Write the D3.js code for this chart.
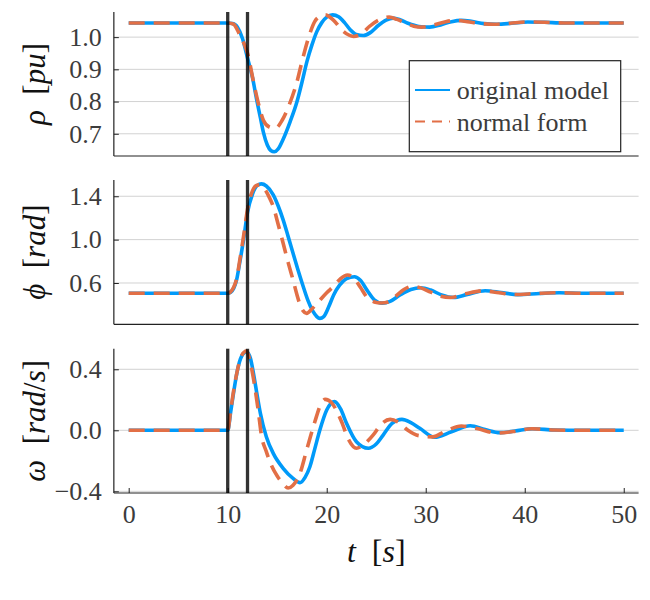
<!DOCTYPE html>
<html><head><meta charset="utf-8">
<script src="https://cdn.jsdelivr.net/npm/d3@7"></script>
<style>
body{margin:0;background:#fff}svg{display:block}
svg text{font-family:"Liberation Serif","DejaVu Serif","Times New Roman",Times,serif !important;}
</style>
</head><body>
<svg id="c" width="650" height="600"></svg>
<script>
// ---- data ----
const seriesNames = ["original model", "normal form"];
const eventTimes = [10, 12];
const xTicks = [0, 10, 20, 30, 40, 50];
const rhoTicks = [0.7, 0.8, 0.9, 1.0];
const phiTicks = [0.6, 1.0, 1.4];
const omegaTicks = [-0.4, 0.0, 0.4];

const rhoOriginal = [[0,1.044],[9.8,1.044],[10.5,1.042],[11.0,1.03],[11.5,0.995],[12.0,0.935],[12.5,0.875],[12.9,0.81],[13.3,0.75],[13.6,0.705],[14.0,0.665],[14.35,0.648],[14.7,0.644],[15.1,0.653],[15.6,0.683],[16.3,0.737],[17.0,0.80],[17.5,0.86],[18.0,0.924],[18.5,0.975],[19.0,1.017],[19.5,1.045],[20.0,1.062],[20.6,1.069],[21.2,1.063],[21.8,1.045],[22.4,1.022],[23.0,1.008],[23.7,1.005],[24.4,1.014],[25.2,1.036],[26.0,1.053],[26.7,1.059],[27.4,1.054],[28.2,1.043],[29.3,1.033],[30.4,1.031],[31.5,1.038],[32.6,1.048],[33.6,1.052],[34.6,1.049],[35.9,1.042],[37.2,1.040],[38.7,1.043],[40.3,1.047],[42,1.046],[44,1.044],[47,1.044],[50,1.044]];
const rhoNormal = [[0,1.044],[10.0,1.044],[10.6,1.04],[11.2,1.008],[11.7,0.976],[12.0,0.95],[12.6,0.862],[13.1,0.794],[13.6,0.742],[14.2,0.721],[14.8,0.717],[15.5,0.742],[16.2,0.789],[17.0,0.862],[17.5,0.924],[18.15,0.997],[18.8,1.049],[19.3,1.064],[19.85,1.069],[20.7,1.052],[21.7,1.017],[22.7,1.002],[23.6,1.012],[24.3,1.033],[25.3,1.054],[26.3,1.062],[27.1,1.055],[28.0,1.043],[28.8,1.034],[29.6,1.031],[30.8,1.038],[32.0,1.048],[33.0,1.052],[34.2,1.048],[35.5,1.042],[36.9,1.040],[38.5,1.043],[40.0,1.047],[42,1.046],[44,1.044],[47,1.044],[50,1.044]];

const phiOriginal = [[0,0.505],[10.0,0.505],[10.3,0.515],[10.6,0.55],[10.9,0.63],[11.2,0.78],[11.6,1.0],[12.0,1.25],[12.5,1.42],[13.0,1.50],[13.4,1.514],[13.9,1.495],[14.6,1.413],[15.1,1.31],[15.6,1.182],[16.1,1.03],[16.6,0.874],[17.1,0.72],[17.6,0.575],[18.1,0.44],[18.6,0.34],[19.0,0.29],[19.3,0.274],[19.7,0.29],[20.2,0.38],[20.7,0.49],[21.3,0.58],[22.0,0.64],[22.8,0.658],[23.4,0.625],[24.1,0.53],[24.8,0.445],[25.6,0.414],[26.4,0.43],[27.4,0.489],[28.5,0.54],[29.5,0.556],[30.5,0.535],[31.6,0.49],[32.8,0.466],[34.2,0.495],[36.0,0.529],[37.6,0.512],[39.3,0.493],[41.5,0.503],[43.5,0.51],[46,0.505],[50,0.505]];
const phiNormal = [[0,0.505],[10.0,0.505],[10.3,0.52],[10.6,0.56],[10.9,0.64],[11.2,0.80],[11.6,1.03],[12.0,1.28],[12.5,1.45],[12.9,1.50],[13.25,1.505],[13.7,1.47],[14.2,1.39],[14.6,1.305],[15.1,1.14],[15.6,0.966],[16.1,0.79],[16.6,0.628],[17.0,0.49],[17.3,0.40],[17.6,0.345],[17.97,0.32],[18.5,0.36],[19.2,0.43],[20.0,0.51],[20.7,0.57],[21.4,0.64],[22.1,0.674],[22.7,0.65],[23.4,0.56],[24.1,0.465],[24.8,0.425],[25.5,0.415],[26.2,0.425],[27.0,0.48],[27.8,0.54],[28.6,0.568],[29.5,0.555],[30.5,0.515],[31.5,0.477],[32.5,0.466],[34.0,0.5],[35.8,0.528],[37.4,0.51],[39.0,0.494],[41.0,0.502],[43.0,0.51],[46,0.505],[50,0.505]];

const omegaOriginal = [[0,0],[10.0,0],[10.3,0.12],[10.6,0.25],[11.0,0.40],[11.4,0.485],[11.9,0.515],[12.3,0.47],[12.6,0.374],[13.0,0.22],[13.3,0.111],[13.9,-0.042],[14.6,-0.151],[15.6,-0.249],[16.6,-0.315],[17.3,-0.343],[17.8,-0.31],[18.3,-0.239],[18.8,-0.12],[19.3,0.0],[20.0,0.133],[20.8,0.188],[21.4,0.14],[22.0,0.046],[23.0,-0.075],[24.2,-0.118],[25.0,-0.09],[25.7,-0.031],[26.6,0.045],[27.6,0.072],[28.5,0.05],[29.4,0.013],[30.9,-0.046],[32.6,-0.01],[34.5,0.03],[36.0,0.005],[37.5,-0.015],[39.0,-0.005],[40.8,0.01],[43,0.002],[46,0],[50,0]];
const omegaNormal = [[0,0],[10.0,0],[10.3,0.13],[10.6,0.26],[11.0,0.40],[11.4,0.49],[11.9,0.52],[12.3,0.44],[12.7,0.30],[13.1,0.12],[13.4,-0.03],[13.9,-0.14],[14.4,-0.228],[15.0,-0.30],[15.6,-0.35],[16.1,-0.378],[16.6,-0.36],[17.3,-0.282],[17.97,-0.13],[18.8,0.056],[19.4,0.17],[19.85,0.203],[20.5,0.18],[21.5,0.056],[22.2,-0.06],[23.0,-0.118],[23.8,-0.09],[24.7,-0.03],[25.5,0.04],[26.4,0.072],[27.3,0.05],[28.2,0.0],[29.3,-0.035],[30.7,-0.043],[32.0,-0.005],[33.6,0.028],[35.3,0.01],[37.1,-0.018],[38.8,-0.008],[40.7,0.01],[43,0.002],[46,0],[50,0]];

// ---- drawing ----
const svg = d3.select("#c");
const left = 113.85, right = 638.6;
const x = d3.scaleLinear().domain([-1.5, 51.5]).range([left, right]);
const blue = "#009af9", red = "#e26f46";
const tickColor = "#3c3c3c";

const panels = [
  {orig: rhoOriginal, norm: rhoNormal, dom: [0.631, 1.078], rng: [156, 12], ticks: rhoTicks, sym: "ρ", unit: "pu"},
  {orig: phiOriginal, norm: phiNormal, dom: [0.219, 1.55], rng: [324.3, 180], ticks: phiTicks, sym: "ϕ", unit: "rad"},
  {orig: omegaOriginal, norm: omegaNormal, dom: [-0.411, 0.535], rng: [493, 348.7], ticks: omegaTicks, sym: "ω", unit: "rad/s"}
];
const fmt = d3.format(".1f");

panels.forEach((p, i) => {
  const y = d3.scaleLinear().domain(p.dom).range(p.rng);
  const g = svg.append("g");
  const yb = p.rng[0], yt = p.rng[1];
  // grid
  g.selectAll(".grid").data(p.ticks).join("line")
    .attr("x1", left).attr("x2", right)
    .attr("y1", d => y(d)).attr("y2", d => y(d))
    .attr("stroke", "#000").attr("stroke-opacity", 0.18).attr("stroke-width", 1);
  // y axis
  const ya = d3.axisLeft(y).tickValues(p.ticks).tickSize(-5).tickPadding(12)
    .tickFormat(d => fmt(d).replace("-", "−"));
  const yg = g.append("g").attr("transform", `translate(${left},0)`).call(ya);
  yg.attr("font-family", null);
  yg.select(".domain").remove();
  yg.selectAll(".tick line").attr("stroke", "#222");
  yg.selectAll(".tick text").attr("font-size", 26).attr("fill", tickColor);
  // axis lines
  g.append("line").attr("x1", left).attr("x2", left).attr("y1", yt).attr("y2", yb).attr("stroke", "#222").attr("stroke-width", 1.2);
  g.append("line").attr("x1", left).attr("x2", right).attr("y1", yb).attr("y2", yb).attr("stroke", "#222").attr("stroke-width", 1.2);
  if (i === 2) {
    const xa = d3.axisBottom(x).tickValues(xTicks).tickSize(-5).tickPadding(12).tickFormat(d3.format("d"));
    const xg = g.append("g").attr("transform", `translate(0,${yb})`).call(xa);
    xg.attr("font-family", null);
    xg.select(".domain").remove();
    xg.selectAll(".tick line").attr("stroke", "#222");
    xg.selectAll(".tick text").attr("font-size", 26).attr("fill", tickColor);
  }
  // series
  const line = d3.line().x(d => x(d[0])).y(d => y(d[1])).curve(d3.curveMonotoneX);
  g.append("path").attr("d", line(p.orig)).attr("fill", "none").attr("stroke", blue).attr("stroke-width", 3.6);
  g.append("path").attr("d", line(p.norm)).attr("fill", "none").attr("stroke", red).attr("stroke-width", 3.6).attr("stroke-dasharray", "16,9");
  // event lines
  g.selectAll(".ev").data(eventTimes).join("line")
    .attr("x1", d => x(d)).attr("x2", d => x(d)).attr("y1", yt).attr("y2", yb)
    .attr("stroke", "#000").attr("stroke-opacity", 0.8).attr("stroke-width", 3.3);
  // y label
  const lab = g.append("text")
    .attr("transform", `translate(45,${(yt + yb) / 2}) rotate(-90)`)
    .attr("text-anchor", "middle").attr("font-size", 31).attr("fill", "#111");
  lab.append("tspan").attr("font-style", "italic").text(p.sym);
  lab.append("tspan").text("\u2002[");
  if (p.unit === "rad/s") {
    lab.append("tspan").attr("font-style", "italic").text("rad");
    lab.append("tspan").text("/");
    lab.append("tspan").attr("font-style", "italic").text("s");
  } else {
    lab.append("tspan").attr("font-style", "italic").text(p.unit);
  }
  lab.append("tspan").text("]");
  // legend in first panel
  if (i === 0) {
    const lg = g.append("g");
    lg.append("rect").attr("x", 409.3).attr("y", 60.7).attr("width", 211.4).attr("height", 91)
      .attr("fill", "#fff").attr("stroke", "#222").attr("stroke-width", 1.2);
    seriesNames.forEach((nm, k) => {
      const yy = 90 + k * 31.5;
      lg.append("line").attr("x1", 415).attr("x2", 450).attr("y1", yy).attr("y2", yy)
        .attr("stroke", k === 0 ? blue : red).attr("stroke-width", 2)
        .attr("stroke-dasharray", k === 0 ? null : "10,7");
      lg.append("text").attr("x", 456.7).attr("y", yy + 9)
        .attr("font-size", 26).attr("fill", tickColor).text(nm);
    });
  }
});

// x label
const xl = svg.append("text").attr("x", (left + right) / 2).attr("y", 562)
  .attr("text-anchor", "middle").attr("font-size", 32).attr("fill", "#111");
xl.append("tspan").attr("font-style", "italic").text("t");
xl.append("tspan").text("\u2002[");
xl.append("tspan").attr("font-style", "italic").text("s");
xl.append("tspan").text("]");
</script>
</body></html>
